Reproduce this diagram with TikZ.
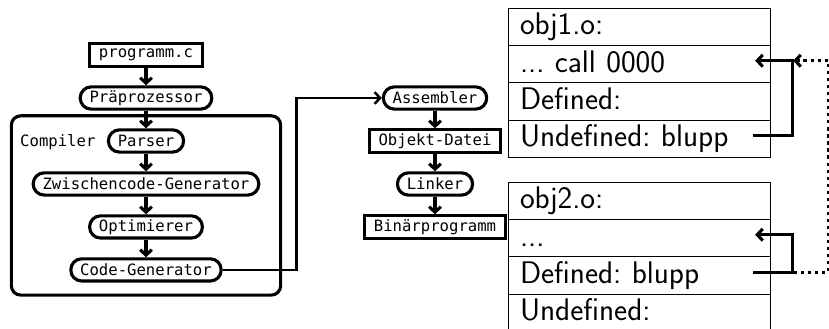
\documentclass[tikz,border=0pt]{standalone}
\usepackage{fontspec}
\setmonofont{DejaVu Sans Mono}
\usetikzlibrary{positioning,fit,calc,arrows.meta}
\frenchspacing
\newcommand{\dotrun}{...}

\begin{document}
\begin{tikzpicture}[->,>={Straight Barb[length=3.5pt,width=7.5pt]},x=0.0225cm,y=-0.0225cm,node distance=0.9675cm,line width=2pt,
    box/.style={draw,line width=2pt,font=\ttfamily,inner xsep=6pt,inner ysep=1pt,minimum height=0.5cm},
    file/.style={box},
    phase/.style={box,rounded corners=7pt},
    row/.style={draw,line width=0.6pt,outer sep=0pt,font=\sffamily\fontsize{20}{24}\selectfont,
        text width=5.36cm,align=left,inner xsep=0.27cm,inner ysep=3pt,text height=14pt,text depth=4pt}]

    \useasboundingbox (0,0) rectangle (829,329);
    \clip (0,0) rectangle (829,329);

    % compiler chain
    \node[file] (src) at (146,55) {programm.c};
    \node[phase] (pre) [below of = src] {Präprozessor};
    \node[phase] (parse) [below of = pre] {Parser};
    \node[phase] (inter) [below of = parse] {Zwischencode-Generator};
    \node[phase] (opt) [below of = inter] {Optimierer};
    \node[phase] (codegen) [below of = opt] {Code-Generator};

    \node[draw,line width=2pt,rounded corners=6pt,fit=(parse)(inter)(codegen),inner xsep=13pt,inner ysep=8pt] (compiler) {};
    \node[font=\ttfamily,left=3pt of parse.base west,anchor=base east] (complabel) {Compiler};

    % assembler and linker
    \node[phase] (asm) at (435,98) {Assembler};
    \node[file] (objfile) [below of = asm] {Objekt-Datei};
    \node[phase] (linker) [below of = objfile] {Linker};
    \node[file] (binary) [below of = linker] {Binärprogramm};

    \foreach \curr/\next in {src/pre,pre/parse,parse/inter,inter/opt,opt/codegen,asm/objfile,objfile/linker,linker/binary}
        \draw (\curr) -- (\next);

    \draw[line width=1.6pt] (codegen.east) -- ++(74,0) |- (asm);

    % object files
    \node[row,anchor=north west] (obja1) at (508,8) {obj1.o:};
    \foreach \txt [count=\i from 2, evaluate = \i as \prev using {int(\i-1)}] in {\dotrun{} call 0000,Defined:,Undefined: blupp}
        \node[row,below=0pt of obja\prev] (obja\i) {\txt};

    \node[row,anchor=north west] (objb1) at (508,182) {obj2.o:};
    \foreach \txt [count=\i from 2, evaluate = \i as \prev using {int(\i-1)}] in {\dotrun,Defined: blupp,Undefined:}
        \node[row,below=0pt of objb\prev] (objb\i) {\txt};

    % symbol resolution
    \draw ($(obja4.east)+(-17,-3.5)$) -- ++(39,0) |- ($(obja2.east)+(-15,-3.5)$);
    \draw ($(objb3.east)+(-17,-3.5)$) -- ++(39,0) |- ($(objb2.east)+(-15,-3.5)$);
    \draw[dash pattern=on 2pt off 2.5pt] ($(objb3.east)+(24,-3.5)$) -- ++(34,0) |- ($(obja2.east)+(23,-3.5)$);

\end{tikzpicture}
\end{document}
